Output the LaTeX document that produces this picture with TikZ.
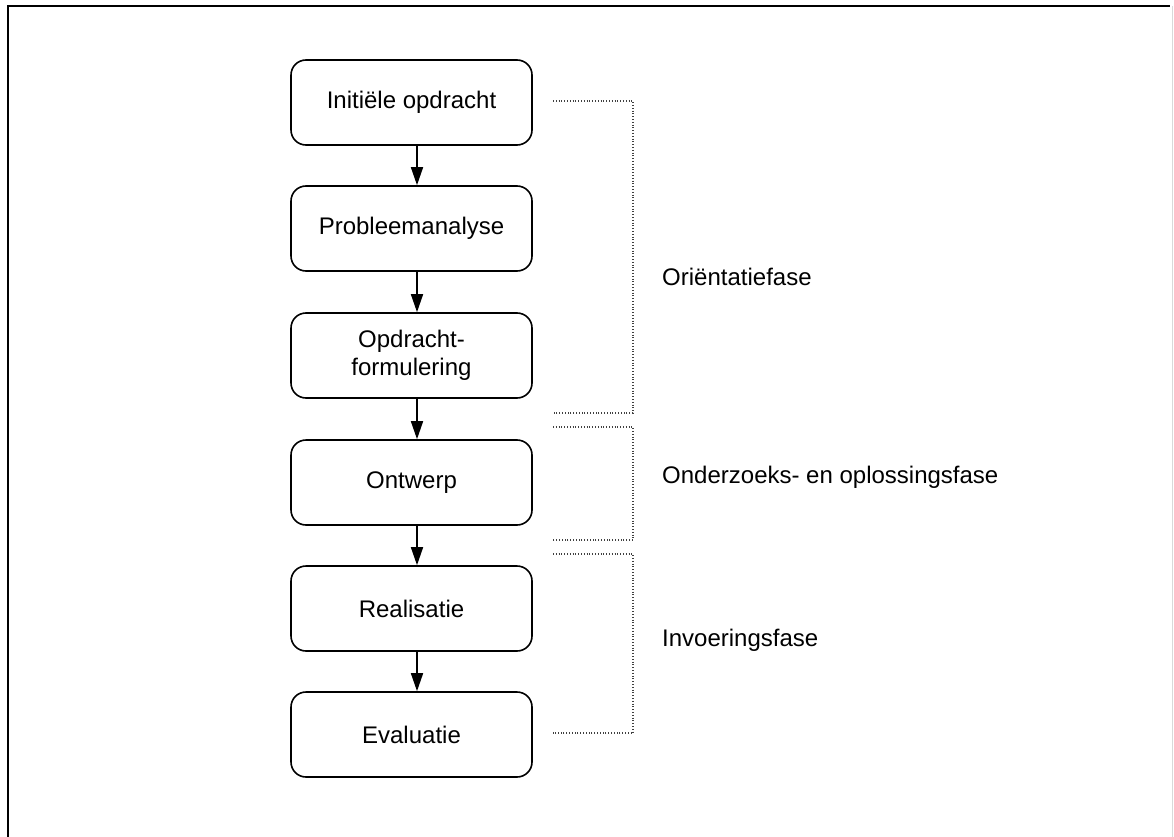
\documentclass[tikz,border=0pt]{standalone}
\usepackage{fontspec}
\setmainfont{Liberation Sans}
\usetikzlibrary{arrows.meta}
\begin{document}
\begin{tikzpicture}[x=1pt,y=-1pt,
  stepbox/.style={draw=black,line width=1.6pt,rounded corners=15pt,minimum width=241pt,minimum height=85pt,align=center,inner sep=0pt,font=\fontsize{24}{27.5}\selectfont},
  arr/.style={line width=1.6pt,-{Triangle[length=18pt,width=12pt]}},
  brk/.style={draw=black!75,line width=1.3pt,dash pattern=on 1pt off 1.8pt},
  lbl/.style={anchor=base west,inner sep=0pt,font=\fontsize{24}{27.5}\selectfont}]
\useasboundingbox (0,0) rectangle (1174,837);
% outer frame
\draw[line width=1.6pt] (8,845) -- (8,6) -- (1170,6);
\draw[line width=1pt,black!15] (1172,6) -- (1172,845);
% boxes
\node[stepbox] (b1) at (411.5,102.5) {Initiële opdracht};
\node[stepbox] (b2) at (411.5,228.5) {Probleemanalyse};
\node[stepbox] (b3) at (411.5,355.5) {Opdracht-\\formulering};
\node[stepbox] (b4) at (411.5,482.5) {Ontwerp};
\node[stepbox] (b5) at (411.5,608.5) {Realisatie};
\node[stepbox] (b6) at (411.5,734.5) {Evaluatie};
% arrows
\foreach \a/\b in {b1/b2,b2/b3,b3/b4,b4/b5,b5/b6}
  \draw[arr] ([xshift=5.5pt]\a.south) -- ([xshift=5.5pt]\b.north);
% brackets
\draw[brk] (553,101) -- (633,101) -- (633,413) -- (553,413);
\draw[brk] (553,427) -- (633,427) -- (633,540) -- (553,540);
\draw[brk] (553,554) -- (633,554) -- (633,733) -- (553,733);
% labels
\node[lbl] (l1) at (662,285.5) {Oriëntatiefase};
\node[lbl] (l2) at (662,483.3) {Onderzoeks- en oplossingsfase};
\node[lbl] (l3) at (662,646) {Invoeringsfase};
\end{tikzpicture}
\end{document}
